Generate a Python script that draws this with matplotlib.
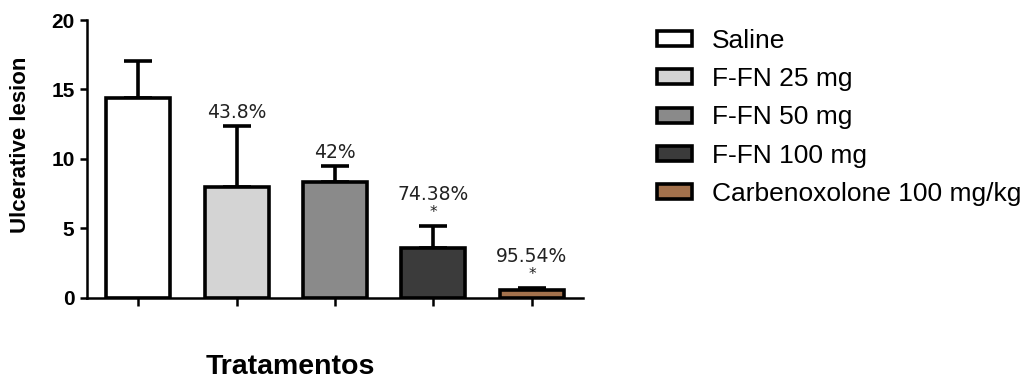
import matplotlib
matplotlib.use("Agg")
import matplotlib.pyplot as plt
from matplotlib.patches import Patch

groups = ["Saline", "F-FN 25 mg", "F-FN 50 mg", "F-FN 100 mg", "Carbenoxolone 100 mg/kg"]
means = [14.4, 8.0, 8.35, 3.6, 0.55]
sem = [2.65, 4.4, 1.15, 1.55, 0.2]
inhibition = ["", "43.8%", "42%", "74.38%", "95.54%"]
significant = [False, False, False, True, True]
colors = ["#ffffff", "#d4d4d4", "#8a8a8a", "#3b3b3b", "#a2714c"]

plt.rcParams["font.family"] = ["Liberation Sans", "DejaVu Sans"]

fig = plt.figure(figsize=(10.26, 3.81), dpi=100)
ax = fig.add_axes([0.0848, 0.218, 0.4835, 0.7295])

x = list(range(len(groups)))
ax.bar(x, means, width=0.65, color=colors, edgecolor="black", linewidth=2.6, zorder=3)
ax.errorbar(x, means, yerr=[[0] * len(sem), sem], fmt="none", ecolor="black",
            elinewidth=2.6, capsize=10, capthick=2.6, zorder=2)

label_font = dict(ha="center", fontsize=13.5, family="DejaVu Sans", color="#222222")
for xi, m, s, lab, sig in zip(x, means, sem, inhibition, significant):
    if not lab:
        continue
    top = m + s
    if sig:
        ax.annotate("*", (xi, top), xytext=(0, 6), textcoords="offset pixels",
                    va="bottom", **{**label_font, "fontsize": 11})
        ax.annotate(lab, (xi, top), xytext=(0, 26), textcoords="offset pixels",
                    va="baseline", **label_font)
    else:
        ax.annotate(lab, (xi, top), xytext=(0, 8), textcoords="offset pixels",
                    va="baseline", **label_font)

ax.set_xlim(-0.52, 4.52)
ax.set_ylim(0, 20)
ax.set_yticks([0, 5, 10, 15, 20])
ax.set_xticks(x)
ax.set_xticklabels([])
for side in ("top", "right"):
    ax.spines[side].set_visible(False)
for side in ("left", "bottom"):
    ax.spines[side].set_linewidth(1.8)
ax.tick_params(axis="y", direction="out", length=5, width=1.8, pad=4, labelsize=15)
ax.tick_params(axis="x", direction="out", length=6, width=1.8)
for t in ax.get_yticklabels():
    t.set_fontweight("bold")

ax.set_ylabel("Ulcerative lesion", fontsize=16, fontweight="bold")
ax.yaxis.set_label_coords(-0.112, 0.55)
fig.text(0.283, 0.018, "Tratamentos", fontsize=20.5, fontweight="bold", ha="center", va="baseline")

handles = [Patch(facecolor=c, edgecolor="black", linewidth=2.6, label=g) for c, g in zip(colors, groups)]
fig.legend(handles=handles, loc="upper left", bbox_to_anchor=(0.640, 0.924), frameon=False,
           fontsize=19, handlelength=1.33, handleheight=0.5, handletextpad=0.76,
           labelspacing=0.54, borderpad=0, borderaxespad=0)

fig.savefig("out.png", dpi=100)
